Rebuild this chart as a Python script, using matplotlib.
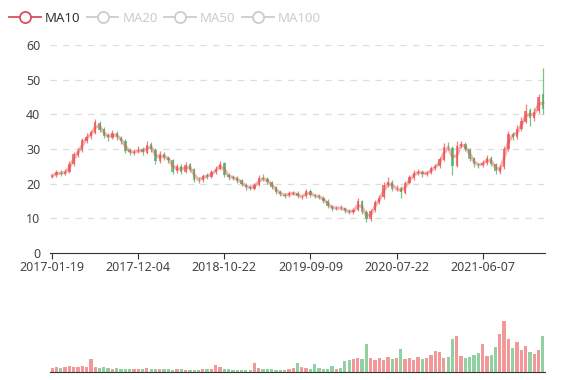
import numpy as np
import pandas as pd
import matplotlib
matplotlib.use('Agg')
import matplotlib.pyplot as plt
from matplotlib.lines import Line2D

plt.rcParams['font.family'] = ['Noto Sans', 'DejaVu Sans']

# roughly two-week candles
opens = [22.0,22.4,23.2,22.8,23.5,25.6,28.3,29.7,32.4,33.8,
         34.6,37.5,35.8,33.9,33.3,34.6,33.2,32.3,29.6,28.9,
         29.3,29.9,28.9,31.3,29.8,26.5,28.7,27.3,26.8,23.6,
         25.1,23.4,25.6,24.1,21.1,21.0,22.4,21.9,23.4,24.2,
         25.9,22.5,21.9,21.6,21.0,19.7,19.0,18.6,19.7,21.7,
         21.3,20.5,18.9,17.7,16.8,16.6,17.1,17.4,16.2,16.3,
         18.0,16.6,16.5,16.0,15.1,13.5,12.9,13.1,12.9,12.1,
         11.7,12.5,14.9,11.9,9.7,12.3,14.6,16.1,19.5,20.6,
         18.4,18.7,17.4,20.3,21.7,23.2,23.3,22.7,23.1,24.4,
         25.1,26.9,30.6,30.3,25.2,30.9,31.5,29.9,27.3,25.5,
         25.4,25.9,27.4,25.7,23.5,24.7,29.9,34.3,33.5,35.9,
         37.9,41.2,38.9,40.9,46.0]
closes = [22.3,23.3,22.9,23.4,25.8,28.5,29.5,32.6,33.6,34.8,
          37.7,35.6,33.8,33.4,34.5,33.4,32.2,29.5,29.0,29.2,
          29.8,29.0,31.2,30.0,26.6,28.6,27.4,26.9,23.5,25.0,
          23.5,25.5,24.0,21.2,21.0,22.3,22.0,23.3,24.3,25.8,
          22.6,21.8,21.7,20.9,19.8,18.9,18.7,19.6,21.6,21.4,
          20.4,19.0,17.6,16.9,16.5,17.2,17.3,16.3,16.2,17.9,
          16.7,16.4,16.1,15.0,13.6,12.8,13.0,13.0,12.0,11.8,
          12.4,15.0,11.8,9.8,12.2,14.7,16.0,19.6,20.5,18.5,
          18.6,17.5,20.2,21.8,23.1,23.4,22.8,23.0,24.5,25.0,
          27.0,30.5,30.5,25.0,31.0,31.4,30.0,27.2,25.6,25.3,
          26.0,27.3,25.8,23.6,24.6,30.0,34.2,33.6,35.8,38.0,
          41.0,39.0,40.8,45.0,41.5]
highs = [22.9,23.9,24.0,24.1,26.4,29.2,30.4,33.3,34.5,35.6,
         38.6,38.2,36.3,34.6,35.4,35.1,33.8,32.8,30.3,29.9,
         30.8,30.5,32.3,31.9,30.2,29.3,29.2,28.0,27.2,25.8,
         25.6,26.3,26.1,24.5,21.8,22.9,23.0,23.9,25.0,26.6,
         26.3,23.1,22.4,22.1,21.4,20.2,19.6,20.2,22.4,22.9,
         21.8,20.9,19.3,18.1,17.3,17.8,18.0,17.8,16.8,18.6,
         18.4,17.1,16.9,16.4,15.5,13.9,13.6,13.9,13.3,12.6,
         13.0,15.8,15.3,12.3,12.8,15.4,16.8,20.4,22.0,21.1,
         19.6,19.2,20.9,22.5,23.8,24.1,23.9,23.7,25.2,25.8,
         27.8,31.6,32.1,30.8,32.3,32.4,32.0,30.3,27.7,26.1,
         26.8,28.2,27.9,26.1,25.3,30.8,35.2,35.0,37.0,39.2,
         43.0,41.8,41.9,46.0,53.5]
lows = [21.5,22.0,22.3,22.4,23.2,25.2,27.6,29.1,31.8,33.0,
        34.2,35.0,33.1,32.3,32.8,32.7,31.4,28.8,28.2,28.3,
        28.8,28.3,28.5,29.2,25.6,26.0,26.8,26.1,22.8,23.0,
        22.9,23.0,23.3,20.5,20.3,20.6,21.4,21.5,22.9,23.8,
        22.0,21.2,21.0,20.3,19.2,18.3,18.1,18.2,19.3,20.8,
        19.8,18.4,17.0,16.3,15.9,16.1,16.6,15.8,15.6,15.9,
        16.1,15.9,15.6,14.4,13.0,12.2,12.4,12.5,11.4,11.2,
        11.3,12.2,11.2,8.9,9.3,11.9,14.1,15.7,19.0,17.9,
        17.8,15.8,17.0,19.8,21.2,22.6,21.9,22.1,22.7,23.9,
        24.6,26.4,29.7,22.5,24.8,30.2,29.3,26.6,24.9,24.6,
        24.9,25.5,25.1,22.9,22.8,24.3,29.4,32.6,33.0,35.3,
        37.4,36.5,38.2,40.3,40.2]
volumes = [4,5,4,5,6,5,5,6,5,13,
           5,4,5,4,3,4,3,3,3,3,
           3,3,4,3,3,3,3,3,2,3,
           3,2,2,2,2,3,3,3,7,5,
           3,3,2,2,2,2,2,9,4,3,
           3,3,2,2,2,3,4,9,5,4,
           3,8,4,3,3,6,3,4,11,12,
           13,14,13,28,14,12,14,12,15,13,
           14,23,13,14,12,15,13,14,17,21,
           20,14,15,33,36,16,14,15,17,19,
           28,16,17,25,38,51,33,24,30,22,
           26,20,18,22,36]
tick_labels = ['2017-01-19', '2017-12-04', '2018-10-22', '2019-09-09',
               '2020-07-22', '2021-06-07']
tick_idx = [0, 20, 40, 60, 80, 100]
legend_names = ['MA10', 'MA20', 'MA50', 'MA100']

up_col = '#eb5454'
down_col = '#47b262'
axis_col = '#333333'
text_col = '#444444'

n = len(closes)
x = np.arange(n)
o = np.array(opens)
c = np.array(closes)
up = c >= o
cols = np.where(up, up_col, down_col)
ma10 = pd.Series(closes).rolling(2, min_periods=1).mean()

fig = plt.figure(figsize=(5.77, 3.80), dpi=100)
ax = fig.add_axes([50/577, 127/380, 495/577, 208/380])
axv = fig.add_axes([50/577, 8/380, 495/577, 72/380])

for yv in range(10, 61, 10):
    ax.axhline(yv, color='#dddddd', lw=0.9, dashes=(5, 5), zorder=0)

ax.vlines(x, lows, highs, colors=cols, lw=0.9, alpha=0.75, zorder=2)
ax.bar(x, c - o, bottom=o, width=0.55, color=cols, alpha=0.75,
       linewidth=0, zorder=2)
ax.plot(x, ma10, color=up_col, lw=2.2, alpha=0.45, zorder=3)

ax.set_xlim(-0.5, n - 0.5)
ax.set_ylim(0, 60)
ax.set_yticks(range(0, 61, 10))
ax.set_xticks(tick_idx)
ax.set_xticklabels(tick_labels)
for s in ['top', 'right', 'left']:
    ax.spines[s].set_visible(False)
ax.spines['bottom'].set_color(axis_col)
ax.tick_params(axis='y', length=0, pad=7, labelsize=9, labelcolor=text_col)
ax.tick_params(axis='x', length=4, color=axis_col, pad=2, labelsize=9,
               labelcolor=text_col)

axv.bar(x, volumes, width=0.75, color=cols, alpha=0.6, linewidth=0)
axv.set_xlim(-0.5, n - 0.5)
axv.set_ylim(0, 72)
axv.set_xticks([])
axv.set_yticks([])
for s in ['top', 'right', 'left']:
    axv.spines[s].set_visible(False)
axv.spines['bottom'].set_color(axis_col)

handles = []
for i, name in enumerate(legend_names):
    col = '#d94e5d' if i == 0 else '#cccccc'
    handles.append(Line2D([], [], color=col, lw=1.3, marker='o', markersize=8,
                          markerfacecolor='white', markeredgecolor=col,
                          markeredgewidth=1.3))
leg = fig.legend(handles, legend_names, loc='upper left',
                 bbox_to_anchor=(-0.005, 1.0), ncol=4, frameon=False,
                 fontsize=9.5, handlelength=2.4, handletextpad=0.3,
                 columnspacing=0.5)
for i, t in enumerate(leg.get_texts()):
    t.set_color('#333333' if i == 0 else '#cccccc')

fig.savefig('out.png', dpi=100)
